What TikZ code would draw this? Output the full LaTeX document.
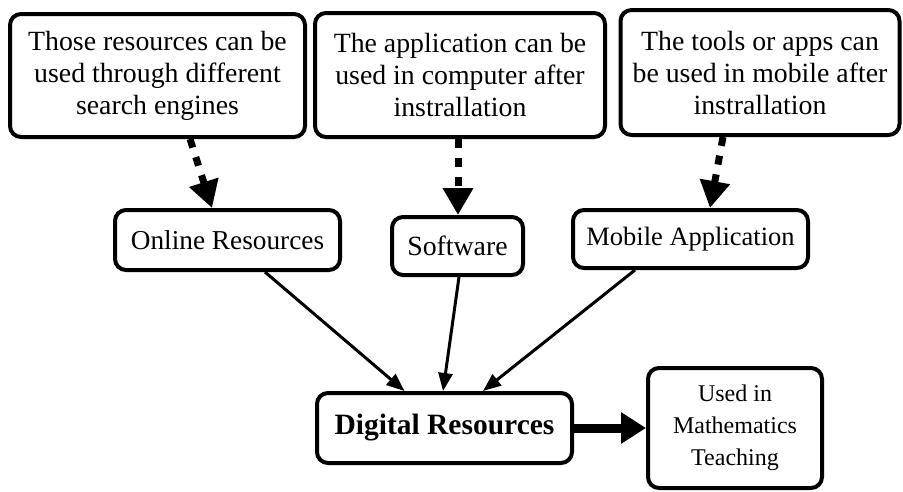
\documentclass[tikz,border=0pt]{standalone}
\usepackage{fontspec}
\setmainfont{Liberation Serif}
\usetikzlibrary{arrows.meta,calc}
\begin{document}
\begin{tikzpicture}[x=1pt,y=-1pt,
  box/.style={draw=black, line width=4pt, rounded corners=11pt, fill=white,
    align=center, inner sep=2pt, font=\fontsize{27.8}{32}\selectfont},
  dotarrow/.style={line width=7pt, dash pattern=on 9pt off 10pt,
    -{Triangle[length=27pt,width=29pt]}},
  feed/.style={line width=3pt, -{Triangle[length=18pt,width=14pt]}},
  boldarrow/.style={line width=9pt, -{Triangle[length=25pt,width=30pt]}}
]
\useasboundingbox (0,0) rectangle (903,491);

% descriptions on the top row
\node[box, minimum width=295pt, minimum height=123pt] (desc1) at (157.5,75.5)
  {Those resources can be\\used through different\\search engines};
\node[box, minimum width=290pt, minimum height=124pt] (desc2) at (460,75)
  {The application can be\\used in computer after\\instrallation};
\node[box, minimum width=279pt, minimum height=125pt] (desc3) at (760,72.5)
  {The tools or apps can\\be used in mobile after\\instrallation};

% kinds of digital resources
\node[box, minimum width=225pt, minimum height=60pt,
  font=\fontsize{27.3}{32}\selectfont] (online) at (227.5,240)
  {Online Resources};
\node[box, minimum width=131pt, minimum height=58pt] (soft) at (457.5,246)
  {Software};
\node[box, minimum width=235pt, minimum height=58pt,
  font=\fontsize{26.5}{32}\selectfont] (mobile) at (690.5,239)
  {Mobile Application};

% centre and outcome
\node[box, minimum width=255pt, minimum height=70pt,
  font=\fontsize{29.5}{34}\selectfont\bfseries] (digital) at (444.5,428)
  {Digital Resources};
\node[box, minimum width=174pt, minimum height=120pt,
  font=\fontsize{24}{32}\selectfont] (used) at (735,428)
  {Used in\\Mathematics\\Teaching};

% dotted links from descriptions
\draw[dotarrow] ([xshift=32.5pt]desc1.south) -- ([xshift=-15.5pt]online.north);
\draw[dotarrow] ([xshift=-2pt]desc2.south) -- ([xshift=0.5pt]soft.north);
\draw[dotarrow] ([xshift=-37pt]desc3.south) -- ([xshift=19.5pt]mobile.north);

% solid links into the centre
\draw[feed] ([xshift=37.5pt]online.south) -- ([xshift=-40pt]digital.north);
\draw[feed] ([xshift=1.5pt]soft.south) -- ([xshift=-1.5pt]digital.north);
\draw[feed] ([xshift=-55.5pt]mobile.south) -- ([xshift=38.5pt]digital.north);

% outcome
\draw[boldarrow] (digital.east) -- (used.west);
\end{tikzpicture}
\end{document}
